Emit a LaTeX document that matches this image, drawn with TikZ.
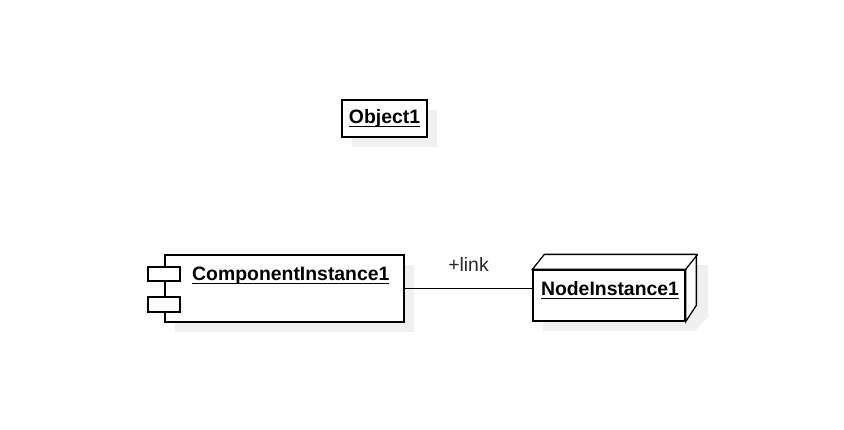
\documentclass[tikz,border=0pt]{standalone}
\usepackage{fontspec}
\setmainfont{Liberation Sans}
\usetikzlibrary{positioning,calc}
\newcommand\umlname[1]{\setbox0\hbox{\bfseries #1}\rlap{\rule[-3.6pt]{\wd0}{1.1pt}}\box0}
\tikzset{
	uml/.style={draw,line width=1.3pt,fill=white,inner sep=0pt},
	shade/.style={fill=black!6,draw=none},
	umltext/.style={inner sep=0pt}
}
\begin{document}
\begin{tikzpicture}[x=1pt,y=-1pt,font=\fontsize{19.4}{23}\selectfont]
				\useasboundingbox (0,0) rectangle (844,429);
				% shadows
				\fill[shade] (352,110) rectangle (437,147);
				\fill[shade] (175,265) rectangle (414,332);
				\fill[shade] (543,331) -- (543,280) -- (555,265) -- (708,265) -- (708,317) -- (695,331) -- cycle;
				% object
				\node[uml, minimum width=85, minimum height=37] (obj1) at (384.5,118.5) {\umlname{Object1}};
				% component instance
				\node[uml, minimum width=239, minimum height=67] (comp1) at (284.5,288.5) {};
				\node[uml, minimum width=32, minimum height=14] (port1) at (164,274) {};
				\node[uml, minimum width=32, minimum height=15] (port2) at (164,304.5) {};
				\node[umltext, anchor=base west] (comp1name) at (192,280) {\umlname{ComponentInstance1}};
				% node instance
				\node[uml, minimum width=152, minimum height=51] (ninst1) at (609,295.5) {};
				\draw[line width=1.3pt, fill=white] (ninst1.north west) -- ++(12,-15) -- ++(152,0) -- ++(0,51) -- (ninst1.south east) -- (ninst1.north east) -- cycle;
				\draw[line width=1.3pt] (ninst1.north east) -- ++(12,-15);
				\node[umltext, anchor=base] (ninst1name) at (610,295) {\umlname{NodeInstance1}};
				% link
				\draw[line width=1.3pt] (comp1.east) -- (comp1.east -| ninst1.west) node[midway, above=16pt, umltext, text=black!85] (link) {+link};
\end{tikzpicture}
\end{document}
